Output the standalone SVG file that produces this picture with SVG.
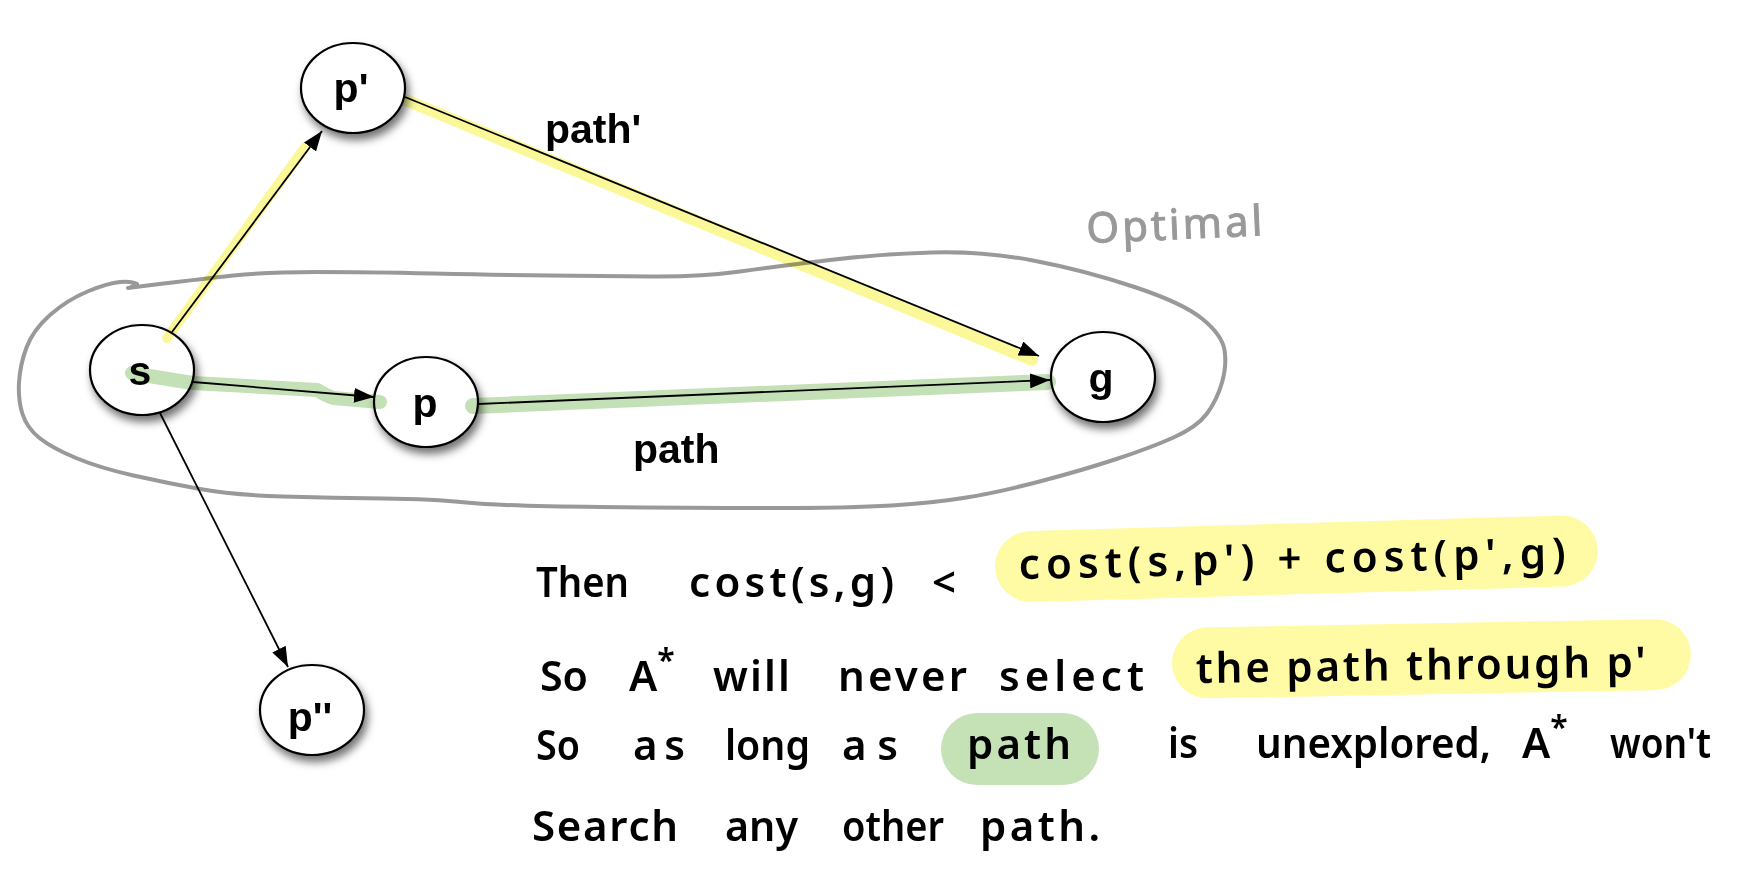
<svg xmlns="http://www.w3.org/2000/svg" width="1761" height="873" viewBox="0 0 1761 873">
<style>
.node ellipse{fill:#fff;stroke:#000;stroke-width:2.2;filter:url(#sh)}
.node text{font-family:"Liberation Sans",Arial,sans-serif;font-weight:bold;font-size:41px;text-anchor:middle;fill:#000}
.lbl{font-family:"Liberation Sans",Arial,sans-serif;font-weight:bold;font-size:41px;fill:#000}
.edge{stroke:#000;stroke-width:1.8;fill:none;marker-end:url(#arr)}
.hy{stroke:#fbf89a;fill:none;stroke-linecap:round}
.hg{stroke:#c4e0b6;fill:none;stroke-linecap:round;stroke-linejoin:round}
.hw{font-family:"Noto Sans","DejaVu Sans",sans-serif;font-weight:600;font-size:42px;fill:#000}
.blob{fill:none;stroke:#999;stroke-width:4;stroke-linecap:round;stroke-linejoin:round}
#highlights{mix-blend-mode:multiply}
</style>
<defs>
<filter id="sh" x="-30%" y="-30%" width="160%" height="170%">
<feDropShadow dx="3" dy="6" stdDeviation="4" flood-color="#000" flood-opacity="0.55"/>
</filter>
<marker id="arr" viewBox="0 0 20 15" refX="20" refY="7.5" markerWidth="20" markerHeight="15" orient="auto" markerUnits="userSpaceOnUse">
<path d="M0,0 L20,7.5 L0,15 z" fill="#000"/>
</marker>
</defs>
<rect width="1761" height="873" fill="#fff"/>

<g id="optimal-region">
<path class="blob" d="M128,288 Q200,279 233.5,275.5 Q267,272 317,272 Q367,272 433.5,273.5 Q500,275 550,275.5 Q600,276 650,276.5 Q700,277 740,271.5 Q780,266 830,260 Q880,254 931.5,252.5 Q983,251 1033,260.5 Q1083,270 1133,286.5 Q1183,303 1202.5,319 Q1222,335 1224.5,350 Q1227,365 1222,382.5 Q1217,400 1207,413.5 Q1197,427 1173.5,437.5 Q1150,448 1116.5,459 Q1083,470 1041.5,481 Q1000,492 966.5,497.5 Q933,503 891.5,505.5 Q850,508 775,508 Q700,508 600,507 Q500,506 466.5,502.5 Q433,499 383,498.5 Q333,498 283,496.5 Q233,495 200,489 Q167,483 133.5,475.5 Q100,468 76,458 Q52,448 39.5,438 Q27,428 22.5,414 Q18,400 19,382.5 Q20,365 26.5,347.5 Q33,330 50,315 Q67,300 87.5,291.5 Q108,283 120,282 Q132,281 137,284 L129,288"/>
<text x="1087" y="243" transform="rotate(-2.5 1087 243)" font-family="'Noto Sans','DejaVu Sans',sans-serif" font-size="42" fill="#999" stroke="#999" stroke-width="1" textLength="176" lengthAdjust="spacing">Optimal</text>
</g>

<g id="connectors">
<line id="e-s-p1" class="edge" x1="172" y1="332" x2="322" y2="131"/>
<line id="e-s-p" class="edge" x1="193" y1="382" x2="374" y2="397"/>
<line id="e-s-p2" class="edge" x1="160" y1="413" x2="288" y2="667"/>
<line id="e-p1-g" class="edge" x1="405" y1="97" x2="1039" y2="356"/>
<line id="e-p-g" class="edge" x1="478" y1="404" x2="1050" y2="380"/>
<text class="lbl" x="545" y="143">path'</text>
<text class="lbl" x="633" y="463">path</text>
</g>

<g id="node-p1" class="node"><ellipse cx="353" cy="88" rx="52" ry="45"/><text x="351" y="102">p'</text></g>
<g id="node-s" class="node"><ellipse cx="142" cy="370" rx="52" ry="45"/><text x="140" y="385">s</text></g>
<g id="node-p" class="node"><ellipse cx="426" cy="402" rx="52" ry="45"/><text x="425" y="417">p</text></g>
<g id="node-g" class="node"><ellipse cx="1103" cy="377" rx="52" ry="45"/><text x="1101" y="392">g</text></g>
<g id="node-p2" class="node"><ellipse cx="312" cy="710" rx="52" ry="45"/><text x="310" y="731">p''</text></g>

<g id="highlights">
<line class="hy" x1="167" y1="338" x2="306" y2="146" stroke-width="10"/>
<path class="hg" d="M132,373 Q160,378 193,383 L317,390 Q325,395 333,398 L380,402" stroke-width="14"/>
<line class="hy" x1="408" y1="101" x2="1032" y2="360" stroke-width="12"/>
<line class="hg" x1="473" y1="406" x2="1048" y2="382" stroke-width="16"/>
</g>

<g id="notes">
<rect x="995" y="532" width="603" height="71" rx="36" ry="36" fill="#fffba4" transform="rotate(-1.66 995 567.5)"/>
<rect x="1172" y="628" width="519" height="71" rx="36" ry="36" fill="#fffba4" transform="rotate(-1.05 1172 663.5)"/>
<rect x="941" y="713" width="158" height="72" rx="36" ry="36" fill="#c5e1b6"/>

<text class="hw" x="536" y="597" textLength="93" lengthAdjust="spacingAndGlyphs">Then</text>
<text class="hw" x="689" y="597" textLength="205" lengthAdjust="spacing">cost(s,g)</text>
<text class="hw" x="932" y="597">&lt;</text>
<text class="hw" x="1019" y="579" textLength="547" lengthAdjust="spacing" transform="rotate(-1.2 1019 579)">cost(s,p') + cost(p',g)</text>

<text class="hw" x="540" y="691" textLength="48" lengthAdjust="spacingAndGlyphs">So</text>
<text class="hw" x="629" y="691">A<tspan dy="-19" font-size="32">*</tspan></text>
<text class="hw" x="713" y="691" textLength="77" lengthAdjust="spacing">will</text>
<text class="hw" x="838" y="691" textLength="129" lengthAdjust="spacing">never</text>
<text class="hw" x="999" y="691" textLength="145" lengthAdjust="spacing">select</text>
<text class="hw" x="1196" y="683" textLength="450" lengthAdjust="spacing" transform="rotate(-0.8 1196 683)">the path through p'</text>

<text class="hw" x="536" y="760" textLength="44" lengthAdjust="spacingAndGlyphs">So</text>
<text class="hw" x="633" y="760" textLength="52" lengthAdjust="spacing">as</text>
<text class="hw" x="725" y="760" textLength="85" lengthAdjust="spacingAndGlyphs">long</text>
<text class="hw" x="842" y="760" textLength="56" lengthAdjust="spacing">as</text>
<text class="hw" x="967" y="759" textLength="104" lengthAdjust="spacing">path</text>
<text class="hw" x="1168" y="758" textLength="30" lengthAdjust="spacingAndGlyphs">is</text>
<text class="hw" x="1256" y="758" textLength="235" lengthAdjust="spacingAndGlyphs">unexplored,</text>
<text class="hw" x="1522" y="758">A<tspan dy="-19" font-size="32">*</tspan></text>
<text class="hw" x="1610" y="758" textLength="101" lengthAdjust="spacingAndGlyphs">won't</text>

<text class="hw" x="532" y="841" textLength="146" lengthAdjust="spacing">Search</text>
<text class="hw" x="725" y="841" textLength="73" lengthAdjust="spacingAndGlyphs">any</text>
<text class="hw" x="842" y="841" textLength="102" lengthAdjust="spacingAndGlyphs">other</text>
<text class="hw" x="980" y="841" textLength="120" lengthAdjust="spacing">path.</text>
</g>
</svg>
